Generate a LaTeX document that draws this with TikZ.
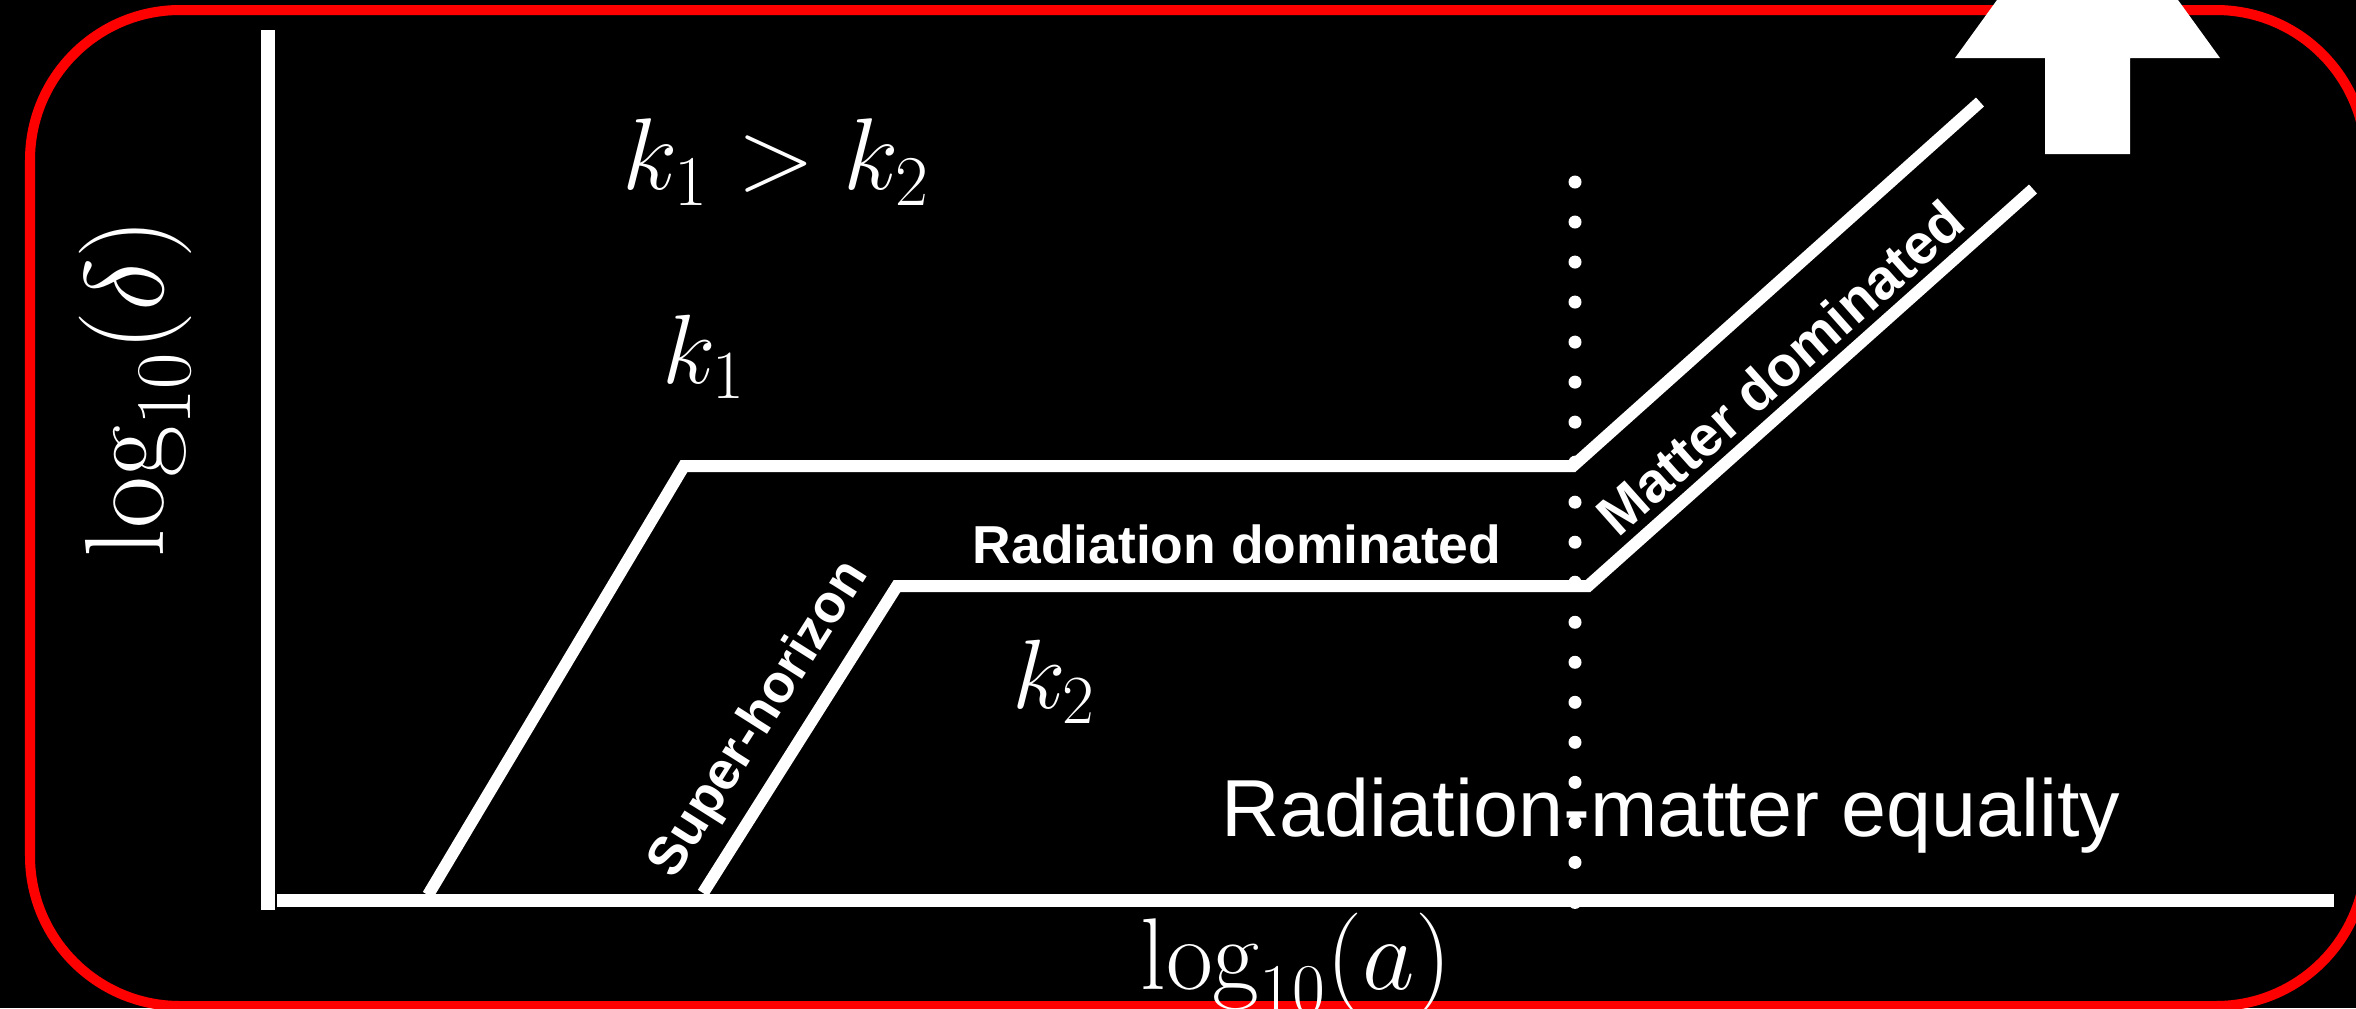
\RequirePackage{fix-cm}
\documentclass[tikz,border=0pt]{standalone}
\usepackage{fontspec}
\newfontfamily\sansf{Liberation Sans}
\begin{document}
\begin{tikzpicture}[x=0.01cm,y=-0.01cm,
  curve/.style={draw=white,line width=0.12cm},
  axisline/.style={draw=white,line width=0.13cm},
  dotline/.style={draw=white,line width=0.13cm,line cap=round,dash pattern=on 0pt off 0.4cm},
  mathlbl/.style={text=white,inner sep=0pt,font=\fontsize{29}{35}\selectfont},
  mathlblk/.style={text=white,inner sep=0pt,font=\fontsize{28}{34}\selectfont},
  mathlblb/.style={text=white,inner sep=0pt,font=\fontsize{32}{38}\selectfont},
  boldlbl/.style={text=white,inner sep=0pt,font=\sansf\bfseries\fontsize{15.2}{18}\selectfont},
  boldlblb/.style={text=white,inner sep=0pt,font=\sansf\bfseries\fontsize{16}{19}\selectfont},
  eqlbl/.style={text=white,inner sep=0pt,font=\sansf\fontsize{23}{28}\selectfont}
]
\useasboundingbox (0,0) rectangle (2356,1008);
\fill[black] (0,0) rectangle (2356,1008);
\clip (0,0) rectangle (2356,1008);
\draw[red, line width=0.1cm, rounded corners=1.5cm] (30,10) rectangle (2366,1006);

% axes
\coordinate (ytop) at (268,30);
\coordinate (ybot) at (268,910);
\coordinate (xl) at (277,900);
\coordinate (xr) at (2334,900);
\draw[axisline] (ytop) -- (ybot);
\draw[axisline] (xl) -- (xr);

% equality dotted line
\coordinate (dtop) at (1575,182);
\coordinate (dbot) at (1575,904);
\draw[dotline] (dtop) -- (dbot);

% k1 curve
\coordinate (a1) at (428,895);
\coordinate (b1) at (684,466);
\coordinate (c1) at (1573,466);
\coordinate (d1) at (1980,102);
\draw[curve] (a1) -- (b1) -- (c1) -- (d1);

% k2 curve
\coordinate (a2) at (703,893);
\coordinate (b2) at (897,586);
\coordinate (c2) at (1588,586);
\coordinate (d2) at (2033,189);
\draw[curve] (a2) -- (b2) -- (c2) -- (d2);

% block arrow
\fill[white] (2087.5,-125) -- (2220,58) -- (2130,58) -- (2130,154) -- (2045,154) -- (2045,58) -- (1955,58) -- cycle;

% labels
\node[mathlbl] (kk) at (776,162) {$k_1 > k_2$};
\node[mathlblk] (k1) at (704,357) {$k_1$};
\node[mathlblk] (k2) at (1054,682) {$k_2$};
\node[mathlblb, rotate=90] (ylab) at (135,388) {$\log_{10}(\delta)$};
\node[mathlbl] (xlab) at (1296,964) {$\log_{10}(a)$};
\node[boldlbl] (rad) at (1237,544) {Radiation dominated};
\node[boldlbl, rotate=57.7] (sup) at (760,720) {Super-horizon};
\node[boldlblb, rotate=41.7] (mat) at (1780,368) {Matter dominated};
\node[eqlbl] (eq) at (1671,816) {Radiation-matter equality};
\end{tikzpicture}
\end{document}
